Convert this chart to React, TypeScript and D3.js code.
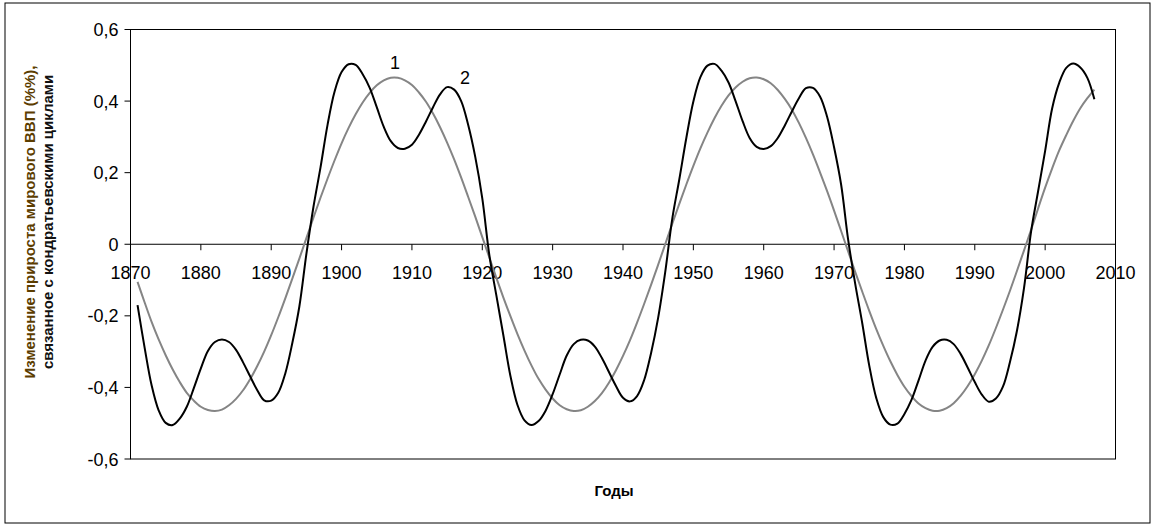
import React from "react";
import * as d3 from "d3";

// Years of data
const startYear = 1871;
// Series 1 (black): Kondratieff-cycle related change, yearly 1871-2007
const series1: number[] = [
  -0.170, -0.288, -0.394, -0.464, -0.499, -0.505, -0.487, -0.454, -0.402, -0.347, // 1871-1880
  -0.298, -0.273, -0.266, -0.273, -0.295, -0.330, -0.369, -0.407, -0.436, -0.437, // 1881-1890
  -0.415, -0.361, -0.276, -0.174, -0.027, 0.104, 0.214, 0.333, 0.426, 0.481, // 1891-1900
  0.503, 0.501, 0.475, 0.437, 0.383, 0.328, 0.288, 0.269, 0.267, 0.278, // 1901-1910
  0.306, 0.343, 0.383, 0.419, 0.439, 0.432, 0.400, 0.333, 0.244, 0.128, // 1911-1920
  -0.030, -0.143, -0.255, -0.368, -0.449, -0.492, -0.505, -0.494, -0.465, -0.419, // 1921-1930
  -0.364, -0.311, -0.279, -0.267, -0.269, -0.286, -0.318, -0.357, -0.396, -0.429, // 1931-1940
  -0.439, -0.424, -0.380, -0.303, -0.205, -0.078, 0.071, 0.181, 0.297, 0.399, // 1941-1950
  0.467, 0.499, 0.504, 0.485, 0.452, 0.400, 0.344, 0.297, 0.272, 0.266, // 1951-1960
  0.274, 0.297, 0.332, 0.371, 0.408, 0.436, 0.437, 0.413, 0.357, 0.271, // 1961-1970
  0.167, 0.013, -0.110, -0.220, -0.339, -0.430, -0.483, -0.504, -0.501, -0.474, // 1971-1980
  -0.435, -0.381, -0.325, -0.287, -0.269, -0.267, -0.279, -0.307, -0.345, -0.385, // 1981-1990
  -0.420, -0.440, -0.431, -0.398, -0.329, -0.241, -0.122, 0.035, 0.148, 0.261, // 1991-2000
  0.380, 0.451, 0.493, 0.505, 0.494, 0.465, 0.405, // 2001-2007
];
// Series 2 (gray): smooth long wave, yearly 1871-2007
const series2: number[] = [
  -0.105, -0.162, -0.217, -0.266, -0.310, -0.350, -0.385, -0.415, -0.437, -0.454, // 1871-1880
  -0.463, -0.466, -0.462, -0.450, -0.432, -0.408, -0.377, -0.341, -0.300, -0.254, // 1881-1890
  -0.204, -0.151, -0.096, -0.040, 0.017, 0.074, 0.130, 0.183, 0.234, 0.282, // 1891-1900
  0.325, 0.363, 0.396, 0.423, 0.444, 0.458, 0.465, 0.465, 0.458, 0.445, // 1901-1910
  0.424, 0.398, 0.365, 0.327, 0.284, 0.237, 0.186, 0.132, 0.077, 0.020, // 1911-1920
  -0.037, -0.094, -0.149, -0.201, -0.251, -0.297, -0.339, -0.376, -0.406, -0.431, // 1921-1930
  -0.450, -0.461, -0.466, -0.464, -0.454, -0.438, -0.416, -0.387, -0.352, -0.312, // 1931-1940
  -0.268, -0.219, -0.167, -0.113, -0.057, 0.000, 0.057, 0.113, 0.167, 0.219, // 1941-1950
  0.268, 0.312, 0.352, 0.387, 0.416, 0.438, 0.454, 0.464, 0.466, 0.461, // 1951-1960
  0.450, 0.431, 0.406, 0.376, 0.339, 0.297, 0.251, 0.201, 0.149, 0.094, // 1961-1970
  0.037, -0.020, -0.077, -0.132, -0.186, -0.237, -0.284, -0.327, -0.365, -0.398, // 1971-1980
  -0.424, -0.445, -0.458, -0.465, -0.465, -0.458, -0.444, -0.423, -0.396, -0.363, // 1981-1990
  -0.325, -0.282, -0.234, -0.183, -0.130, -0.074, -0.017, 0.040, 0.100, 0.158, // 1991-2000
  0.212, 0.262, 0.305, 0.345, 0.380, 0.408, 0.432, // 2001-2007
];
const xTicks: number[] = [1870, 1880, 1890, 1900, 1910, 1920, 1930, 1940, 1950, 1960, 1970, 1980, 1990, 2000, 2010];
const yTicks: number[] = [-0.6, -0.4, -0.2, 0, 0.2, 0.4, 0.6];
const yTitle1 = "Изменение прироста мирового ВВП (%%),";
const yTitle2 = "связанное с кондратьевскими циклами";
const xTitle = "Годы";
const curveLabels = [
  { text: "1", year: 1907.6, value: 0.509 },
  { text: "2", year: 1917.55, value: 0.467 },
];

const W = 1155;
const H = 527;
const FONT = "'Liberation Sans', Arial, sans-serif";

export default function App() {
  const left = 130.5, right = 1115.5, top = 29.5, bottom = 459;
  const x = d3.scaleLinear().domain([1870, 2010]).range([left, right]);
  const y = d3.scaleLinear().domain([-0.6, 0.6]).range([bottom, top]);
  const fmt = (v: number) => (v === 0 ? "0" : d3.format(".1f")(v).replace(".", ",").replace("−", "-"));

  const line = d3
    .line<number>()
    .x((_, i) => x(startYear + i))
    .y((d) => y(d))
    .curve(d3.curveCatmullRom.alpha(0.5));

  return (
    <svg width={W} height={H} style={{ position: "absolute", left: 0, top: 0, display: "block" }} fontFamily={FONT}>
      <rect x={0} y={0} width={W} height={H} fill="#fff" />
      <rect x={5} y={3} width={1145} height={520} fill="none" stroke="#000" strokeWidth={1} />
      {/* plot frame */}
      <rect x={left} y={top} width={right - left} height={bottom - top} fill="none" stroke="#000" strokeWidth={1} />
      {/* zero axis */}
      <line x1={left} x2={right} y1={y(0)} y2={y(0)} stroke="#000" strokeWidth={1} />
      {xTicks.map((t) => (
        <g key={t}>
          <line x1={x(t)} x2={x(t)} y1={y(0)} y2={y(0) + 6} stroke="#000" strokeWidth={1} />
          <text x={x(t)} y={y(0) + 34.5} textAnchor="middle" fontSize={18} fill="#000">
            {t}
          </text>
        </g>
      ))}
      {yTicks.map((t) => (
        <g key={t}>
          <line x1={left - 6} x2={left} y1={y(t)} y2={y(t)} stroke="#000" strokeWidth={1} />
          <text x={left - 12} y={y(t) + 6.5} textAnchor="end" fontSize={18} fill="#000">
            {fmt(t)}
          </text>
        </g>
      ))}
      <path d={line(series2) || ""} fill="none" stroke="#858585" strokeWidth={2} />
      <path d={line(series1) || ""} fill="none" stroke="#000" strokeWidth={2} />
      {curveLabels.map((l) => (
        <text key={l.text} x={x(l.year)} y={y(l.value) + 6.5} textAnchor="middle" fontSize={18} fill="#000">
          {l.text}
        </text>
      ))}
      <text transform="translate(35,222) rotate(-90)" textAnchor="middle" fontSize={15} fontWeight="bold" fill="#5c3d00">
        {yTitle1}
      </text>
      <text transform="translate(53,222) rotate(-90)" textAnchor="middle" fontSize={15} fontWeight="bold" fill="#111">
        {yTitle2}
      </text>
      <text x={614} y={495.5} textAnchor="middle" fontSize={15} fontWeight="bold" fill="#000">
        {xTitle}
      </text>
    </svg>
  );
}
